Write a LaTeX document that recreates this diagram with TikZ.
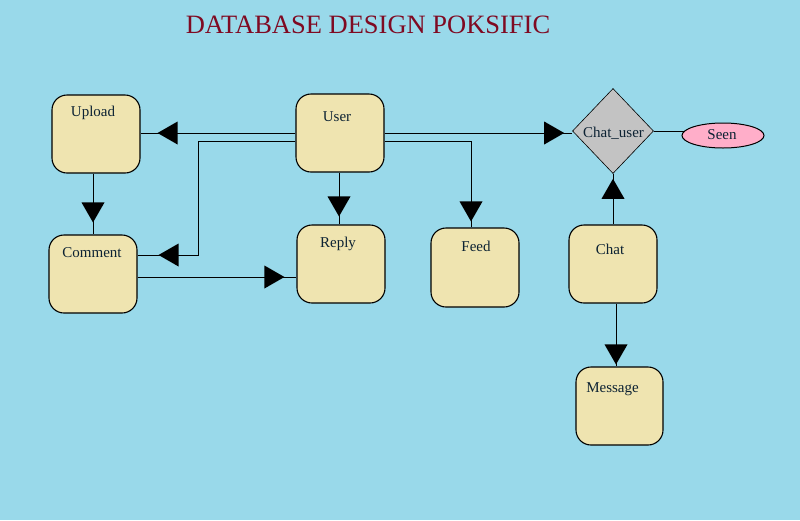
\documentclass[tikz,border=0pt]{standalone}
\usepackage{fontspec}
\setmainfont{Liberation Serif}
\usetikzlibrary{shapes.geometric,decorations.markings}
\definecolor{bgblue}{HTML}{99D9EA}
\definecolor{boxtan}{HTML}{EFE4B0}
\definecolor{titlered}{HTML}{7F0A22}
\definecolor{dgray}{HTML}{C3C3C3}
\definecolor{pinkish}{HTML}{FFAEC9}
\definecolor{txt}{HTML}{0C2233}
\tikzset{
  entbox/.style={draw=black, line width=1.1pt, fill=boxtan, rounded corners=15pt, inner sep=0pt},
  lbl/.style={anchor=base, text=txt, font=\fontsize{15}{17}\selectfont, inner sep=0pt},
  conn/.style={draw=black, line width=1pt},
  tri/.style={postaction={decorate}, decoration={markings,
      mark=at position -#1pt with {\fill[black] (0pt,0pt) -- (-20pt,11.5pt) -- (-20pt,-11.5pt) -- cycle;}}}
}
\begin{document}
\begin{tikzpicture}[x=1pt,y=-1pt]
\useasboundingbox (0,0) rectangle (800,520);
\fill[bgblue] (0,0) rectangle (800,520);

\node[anchor=base, text=titlered, font=\fontsize{26.5}{30}\selectfont, inner sep=0pt] (title) at (368,33) {DATABASE DESIGN POKSIFIC};

% entity boxes
\node[entbox, minimum width=88pt, minimum height=78pt] (upload) at (96,134) {};
\node[entbox, minimum width=88pt, minimum height=78pt] (user) at (340,133) {};
\node[entbox, minimum width=88pt, minimum height=78pt] (comment) at (93,274) {};
\node[entbox, minimum width=88pt, minimum height=78pt] (reply) at (341,264) {};
\node[entbox, minimum width=88pt, minimum height=79pt] (feed) at (475,267.5) {};
\node[entbox, minimum width=88pt, minimum height=78pt] (chat) at (613,264) {};
\node[entbox, minimum width=87pt, minimum height=78pt] (message) at (619.5,406) {};
\node[diamond, draw=black, line width=0.6pt, fill=dgray, minimum width=81pt, minimum height=85pt, inner sep=0pt] (cu) at (613,131) {};
\node[ellipse, draw=black, line width=1pt, fill=pinkish, minimum width=82pt, minimum height=25pt, inner sep=0pt] (seen) at (723,135.5) {};

% labels
\node[lbl] (uploadT) at (93,116) {Upload};
\node[lbl] (userT) at (337,121) {User};
\node[lbl] (commentT) at (92,257) {Comment};
\node[lbl] (replyT) at (338,247) {Reply};
\node[lbl] (feedT) at (476,251) {Feed};
\node[lbl] (chatT) at (610,254) {Chat};
\node[lbl] (messageT) at (612.5,392) {Message};
\node[lbl] (cuT) at (613.5,137) {Chat\_user};
\node[lbl] (seenT) at (722,139) {Seen};

% helper coordinates
\coordinate (b1) at (198,141);
\coordinate (b2) at (198,255);
\coordinate (c3) at (137,277);

% connectors
\draw[conn, tri=17] (user.west) -- (user.west -| upload.east);
\draw[conn, tri=21] (b1 -| user.west) -- (b1) -- (b2) -- (b2 -| comment.east);
\draw[conn, tri=12] (c3 -| comment.east) -- (c3 -| reply.west);
\draw[conn, tri=8] ([xshift=-1pt]user.south) -- ([xshift=-1pt]user.south |- reply.north);
\draw[conn, tri=12] (comment.north |- upload.south) -- (comment.north);
\draw[conn, tri=8] (user.east) -- (user.east -| cu.west);
\draw[conn, tri=6] (b1 -| user.east) -| ([xshift=-4pt]feed.north);
\draw[conn, tri=5] (chat.north) -- (cu.south);
\draw[conn, tri=2] ([xshift=3pt]chat.south) -- ([xshift=3pt]chat.south |- message.north);
\draw[conn] (cu.east) -- ([xshift=2pt]seen.west |- cu.east);
\end{tikzpicture}
\end{document}
